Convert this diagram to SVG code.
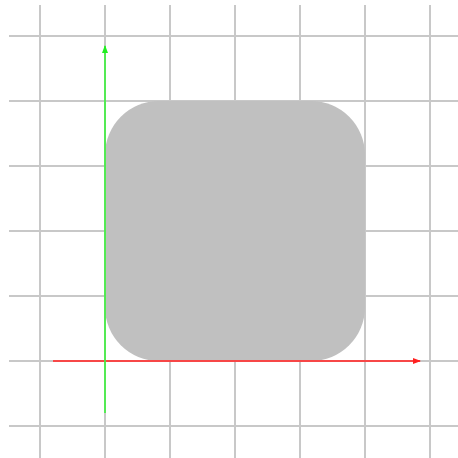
<svg xmlns="http://www.w3.org/2000/svg" width="458" height="458" viewBox="0 0 458 458">
<style>
.grid line{stroke:#c8c8c8;stroke-width:2}
</style>
<defs>
<marker id="ar" markerWidth="8" markerHeight="6" refX="7" refY="3" orient="auto" markerUnits="userSpaceOnUse"><path d="M0,0 L8,3 L0,6 Z" fill="#ff2020"/></marker>
<marker id="ag" markerWidth="8" markerHeight="6" refX="7" refY="3" orient="auto" markerUnits="userSpaceOnUse"><path d="M0,0 L8,3 L0,6 Z" fill="#20ee20"/></marker>
</defs>
<rect width="458" height="458" fill="#fff"/>
<g class="grid">
<line x1="40" y1="5" x2="40" y2="458"/>
<line x1="105" y1="5" x2="105" y2="458"/>
<line x1="170" y1="5" x2="170" y2="458"/>
<line x1="235" y1="5" x2="235" y2="458"/>
<line x1="300" y1="5" x2="300" y2="458"/>
<line x1="365" y1="5" x2="365" y2="458"/>
<line x1="430" y1="5" x2="430" y2="458"/>
<line x1="9" y1="36" x2="458" y2="36"/>
<line x1="9" y1="101" x2="458" y2="101"/>
<line x1="9" y1="166" x2="458" y2="166"/>
<line x1="9" y1="231" x2="458" y2="231"/>
<line x1="9" y1="296" x2="458" y2="296"/>
<line x1="9" y1="361" x2="458" y2="361"/>
<line x1="9" y1="426" x2="458" y2="426"/>
</g>
<g id="shape">
<rect x="105" y="101" width="260" height="260" rx="54" fill="#c0c0c0"/>
</g>
<g id="axes">
<line x1="53" y1="361" x2="420" y2="361" stroke="#ff3030" stroke-opacity="0.85" stroke-width="2" marker-end="url(#ar)"/>
<line x1="105" y1="413" x2="105" y2="46" stroke="#40f040" stroke-opacity="0.85" stroke-width="2" marker-end="url(#ag)"/>
</g>
</svg>
